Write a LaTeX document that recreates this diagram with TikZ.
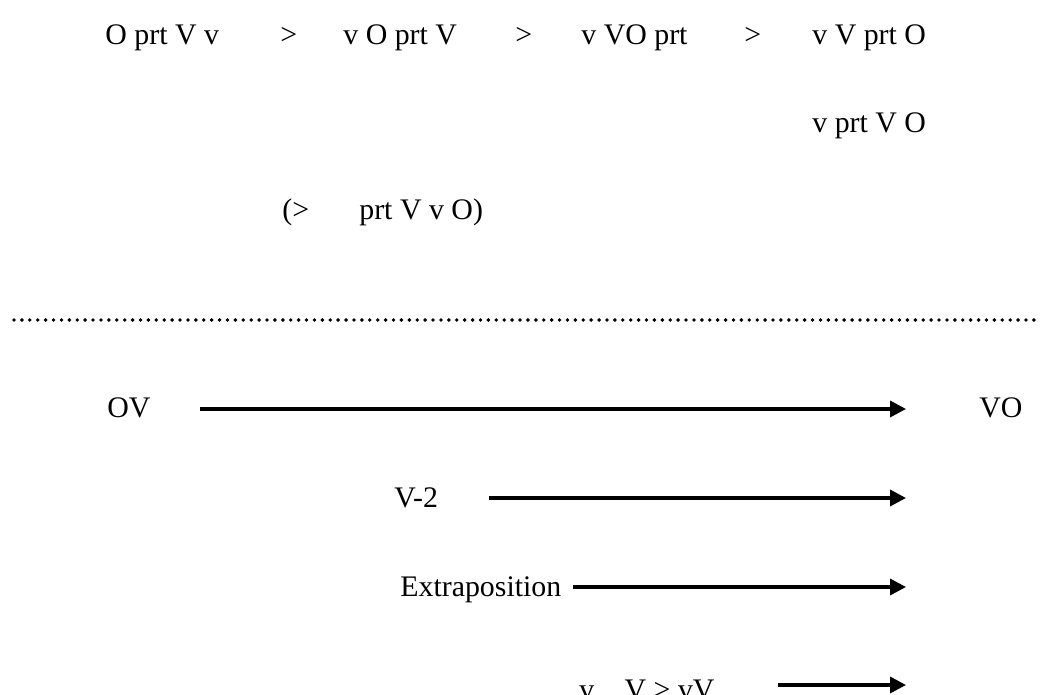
\documentclass[tikz,border=0pt]{standalone}
\usepackage{fontspec}
\setmainfont{Liberation Serif}
\usetikzlibrary{arrows.meta,positioning}

\begin{document}
\begin{tikzpicture}[x=0.02cm,y=-0.02cm,
  lbl/.style={inner sep=0pt,anchor=base west,font=\fontsize{17}{20}\selectfont},
  chg/.style={line width=2pt,-{Triangle[length=9pt,width=9pt]}}]
\useasboundingbox (0,0) rectangle (1040,695);
% orders, older to newer
\node[lbl] (o1) at (105,45) {O prt V v};
\node[lbl] (g1) at (280,45) {>};
\node[lbl] (o2) at (343,45) {v O prt V};
\node[lbl] (g2) at (515,45) {>};
\node[lbl] (o3) at (581,45) {v VO prt};
\node[lbl] (g3) at (744,45) {>};
\node[lbl] (o4) at (812,45) {v V prt O};
\node[lbl] (o5) at (812,133) {v prt V O};
\node[lbl] (g4) at (282,220) {(>};
\node[lbl] (o6) at (359,220) {prt V v O)};
\draw[line width=2.2pt,dash pattern=on 0pt off 4.5pt,line cap=round] (14,320) -- (1040,320);
% changes
\node[lbl] (ov) at (107,418) {OV};
\node[lbl] (vo) at (979,418) {VO};
\node[lbl] (v2) at (394,507) {V-2};
\node[lbl] (ex) at (400,596) {Extraposition};
\node[lbl] (vv) at (579,699) {v... V > vV};
\coordinate (a1) at (200,409);
\coordinate (b1) at (906,409);
\coordinate (a2) at (489,498);
\coordinate (b2) at (906,498);
\coordinate (a3) at (573,587);
\coordinate (b3) at (906,587);
\coordinate (a4) at (778,685);
\coordinate (b4) at (906,685);
\draw[chg] (a1) -- (b1);
\draw[chg] (a2) -- (b2);
\draw[chg] (a3) -- (b3);
\draw[chg] (a4) -- (b4);
\end{tikzpicture}
\end{document}
